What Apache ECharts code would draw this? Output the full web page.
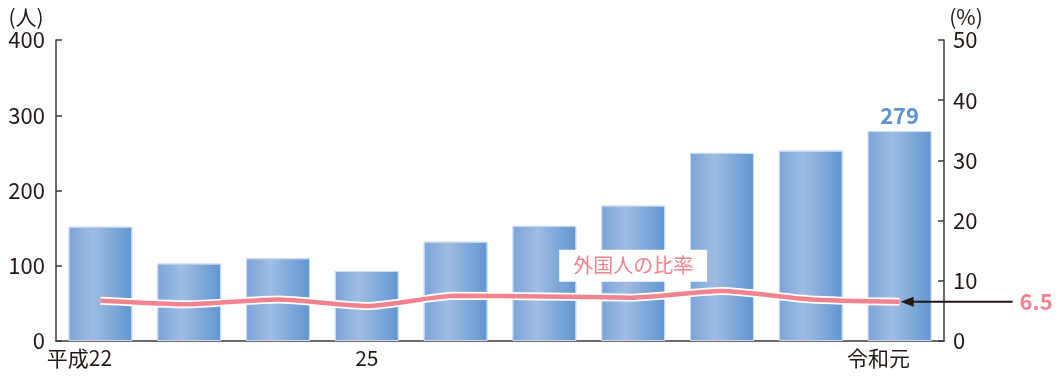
<!DOCTYPE html>
<html>
<head>
<meta charset="utf-8">
<script src="https://cdn.jsdelivr.net/npm/echarts@6/dist/echarts.min.js"></script>
<style>
html,body{margin:0;padding:0;background:#fff;}
#c{width:1060px;height:378px;}
</style>
</head>
<body>
<div id="c"></div>
<script>
const categories = ['平成22','23','24','25','26','27','28','29','30','令和元'];
const shownLabels = ['平成22','25','令和元'];
const persons = [152, 103, 110, 93, 132, 153, 180, 250, 253, 279];
const ratio = [6.7, 6.1, 6.9, 5.8, 7.5, 7.4, 7.2, 8.3, 6.9, 6.5];
const leftUnit = '(人)';
const rightUnit = '(%)';
const seriesLabel = '外国人の比率';

const FONT = '"Noto Sans CJK JP", "Noto Sans", sans-serif';
const AXIS = '#3e3a39';
const TEXT = '#231815';
const PINK = '#f0838e';
const BLUE_TXT = '#5e92d2';

const chart = echarts.init(document.getElementById('c'), null, {renderer: 'canvas'});

const option = {
  animation: false,
  textStyle: {fontFamily: FONT},
  grid: {left: 56, right: 116, top: 40, bottom: 37, containLabel: false},
  xAxis: {
    type: 'category',
    data: categories,
    axisLine: {lineStyle: {color: AXIS, width: 1.5}},
    axisTick: {show: false},
    axisLabel: {
      interval: (i, v) => shownLabels.indexOf(v) >= 0,
      margin: 7,
      fontSize: 21,
      color: TEXT,
      fontFamily: FONT,
      formatter: v => (v === '25' ? '{c|' + v + '}' : '{s|' + v + '}'),
      rich: {
        c: {fontSize: 21, color: TEXT, fontFamily: FONT},
        s: {fontSize: 21, color: TEXT, fontFamily: FONT, padding: [0, 42, 0, 0]}
      }
    }
  },
  yAxis: [
    {
      type: 'value', min: 0, max: 400, interval: 100,
      axisLine: {show: true, lineStyle: {color: AXIS, width: 1.5}},
      axisTick: {show: true, inside: true, length: 6, lineStyle: {color: AXIS, width: 1.5}},
      splitLine: {show: false},
      axisLabel: {fontSize: 22, color: TEXT, margin: 11, fontFamily: FONT}
    },
    {
      type: 'value', min: 0, max: 50, interval: 10,
      axisLine: {show: true, lineStyle: {color: AXIS, width: 1.5}},
      axisTick: {show: true, inside: true, length: 6, lineStyle: {color: AXIS, width: 1.5}},
      splitLine: {show: false},
      axisLabel: {fontSize: 22, color: TEXT, margin: 9, fontFamily: FONT}
    }
  ],
  series: [
    {
      type: 'bar',
      yAxisIndex: 0,
      barWidth: '72%',
      data: persons.map((v, i) => i === persons.length - 1 ? {
        value: v,
        label: {show: true, position: 'top', distance: 4, color: BLUE_TXT, fontSize: 22, fontWeight: 'bold', fontFamily: FONT}
      } : v),
      itemStyle: {
        color: {
          type: 'linear', x: 0, y: 0, x2: 1, y2: 0,
          colorStops: [
            {offset: 0, color: '#7aa4d8'},
            {offset: 0.38, color: '#a0bce2'},
            {offset: 1, color: '#6096d0'}
          ]
        },
        borderColor: '#c9daef',
        borderWidth: 1
      },
      z: 2
    },
    {
      type: 'line',
      yAxisIndex: 1,
      data: ratio,
      smooth: 0.2,
      symbol: 'none',
      lineStyle: {color: '#ffffff', width: 8, cap: 'butt'},
      silent: true,
      z: 3
    },
    {
      type: 'line',
      yAxisIndex: 1,
      data: ratio,
      smooth: 0.2,
      symbol: 'none',
      lineStyle: {color: PINK, width: 4.5, cap: 'butt'},
      silent: true,
      z: 4
    }
  ]
};

chart.setOption(option);

const last = ratio.length - 1;
const p = chart.convertToPixel({xAxisIndex: 0, yAxisIndex: 1}, [last, ratio[last]]);
const lp = chart.convertToPixel({xAxisIndex: 0, yAxisIndex: 1}, [6, 12.5]);

chart.setOption({
  graphic: [
    {type: 'line', z: 10, shape: {x1: p[0] + 8, y1: p[1], x2: p[0] + 113, y2: p[1]}, style: {stroke: TEXT, lineWidth: 2}},
    {type: 'polygon', z: 10, shape: {points: [[p[0] + 1, p[1]], [p[0] + 14, p[1] - 5], [p[0] + 14, p[1] + 5]]}, style: {fill: TEXT}},
    {type: 'text', z: 10, x: p[0] + 120, y: p[1], style: {text: ratio[last].toFixed(1), fill: PINK, font: 'bold 22px ' + FONT, align: 'left', verticalAlign: 'middle'}},
    {type: 'text', z: 10, x: lp[0], y: lp[1], style: {text: seriesLabel, fill: PINK, font: '20px ' + FONT, align: 'center', verticalAlign: 'middle', backgroundColor: '#ffffff', padding: [6, 14, 6, 14]}},
    {type: 'text', z: 10, x: 26, y: 17, style: {text: leftUnit, fill: TEXT, font: '21px ' + FONT, align: 'center', verticalAlign: 'middle'}},
    {type: 'text', z: 10, x: 966, y: 17, style: {text: rightUnit, fill: TEXT, font: '21px ' + FONT, align: 'center', verticalAlign: 'middle'}}
  ]
});
</script>
</body>
</html>
